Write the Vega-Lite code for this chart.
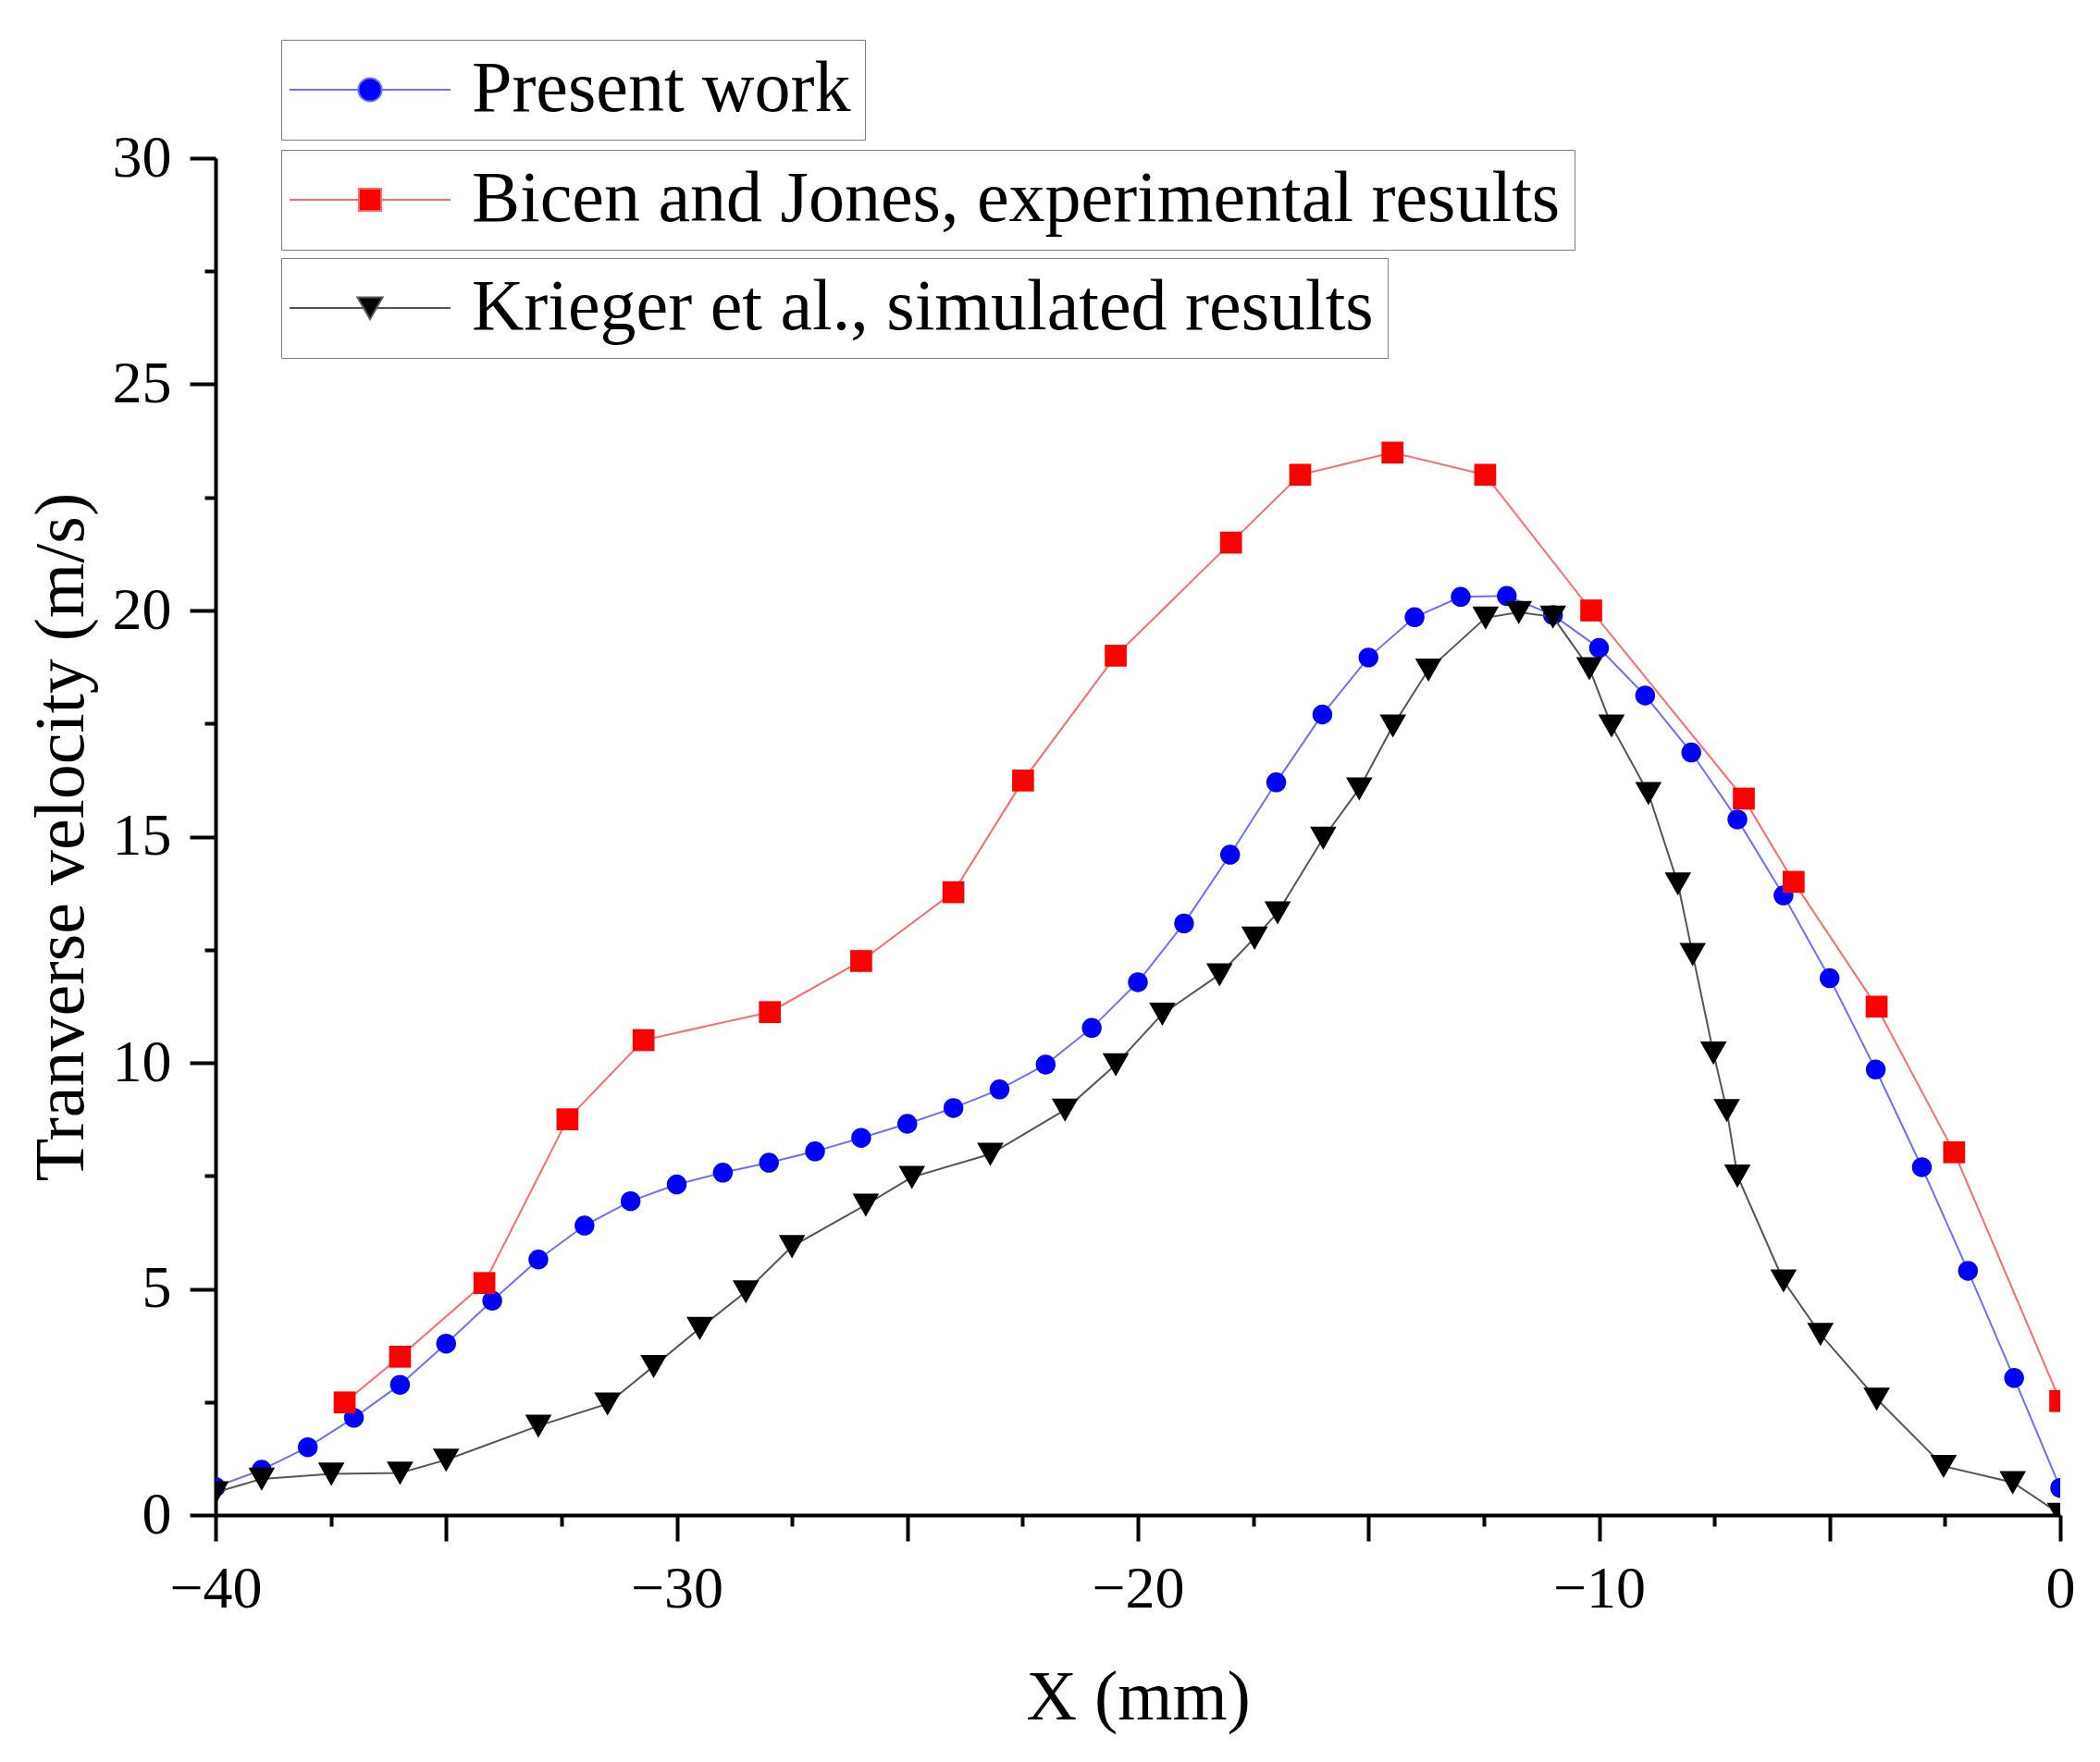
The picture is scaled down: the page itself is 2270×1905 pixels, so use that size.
{
  "$schema": "https://vega.github.io/schema/vega-lite/v6.json",
  "autosize": {"type": "none"},
  "width": 1994,
  "height": 1467,
  "padding": {"left": 233, "top": 171, "right": 43, "bottom": 267},
  "background": "white",
  "config": {
    "view": {"stroke": null},
    "font": "Liberation Serif",
    "axis": {
      "grid": false,
      "labelFont": "Liberation Serif",
      "titleFont": "Liberation Serif",
      "labelColor": "black",
      "titleColor": "black",
      "domainColor": "black",
      "tickColor": "black",
      "domainWidth": 4,
      "tickWidth": 4,
      "labelFlush": false,
      "labelOverlap": false,
      "titleFontWeight": "normal"
    },
    "legend": {
      "orient": "none",
      "title": null,
      "padding": 15,
      "strokeColor": "#808080",
      "fillColor": "white",
      "labelFont": "Liberation Serif",
      "labelFontSize": 78,
      "labelColor": "black",
      "labelLimit": 3000,
      "symbolSize": 3600,
      "symbolOffset": 42,
      "labelOffset": 71,
      "symbolStrokeWidth": 2
    }
  },
  "data": {
    "values": [
      {"series": "Present work", "x": -40, "y": 0.62},
      {"series": "Present work", "x": -39, "y": 1.0},
      {"series": "Present work", "x": -38, "y": 1.5},
      {"series": "Present work", "x": -37, "y": 2.15},
      {"series": "Present work", "x": -36, "y": 2.88},
      {"series": "Present work", "x": -35, "y": 3.79},
      {"series": "Present work", "x": -34, "y": 4.74},
      {"series": "Present work", "x": -33, "y": 5.65},
      {"series": "Present work", "x": -32, "y": 6.4},
      {"series": "Present work", "x": -31, "y": 6.94},
      {"series": "Present work", "x": -30, "y": 7.31},
      {"series": "Present work", "x": -29, "y": 7.57},
      {"series": "Present work", "x": -28, "y": 7.79},
      {"series": "Present work", "x": -27, "y": 8.04},
      {"series": "Present work", "x": -26, "y": 8.34},
      {"series": "Present work", "x": -25, "y": 8.65},
      {"series": "Present work", "x": -24, "y": 9.0},
      {"series": "Present work", "x": -23, "y": 9.41},
      {"series": "Present work", "x": -22, "y": 9.96},
      {"series": "Present work", "x": -21, "y": 10.77},
      {"series": "Present work", "x": -20, "y": 11.78},
      {"series": "Present work", "x": -19, "y": 13.08},
      {"series": "Present work", "x": -18, "y": 14.6},
      {"series": "Present work", "x": -17, "y": 16.2},
      {"series": "Present work", "x": -16, "y": 17.7},
      {"series": "Present work", "x": -15, "y": 18.96},
      {"series": "Present work", "x": -14, "y": 19.85},
      {"series": "Present work", "x": -13, "y": 20.3},
      {"series": "Present work", "x": -12, "y": 20.32},
      {"series": "Present work", "x": -11, "y": 19.9},
      {"series": "Present work", "x": -10, "y": 19.17},
      {"series": "Present work", "x": -9, "y": 18.12},
      {"series": "Present work", "x": -8, "y": 16.86},
      {"series": "Present work", "x": -7, "y": 15.38},
      {"series": "Present work", "x": -6, "y": 13.7},
      {"series": "Present work", "x": -5, "y": 11.87},
      {"series": "Present work", "x": -4, "y": 9.85},
      {"series": "Present work", "x": -3, "y": 7.69},
      {"series": "Present work", "x": -2, "y": 5.4},
      {"series": "Present work", "x": -1, "y": 3.03},
      {"series": "Present work", "x": 0, "y": 0.6},

      {"series": "Bicen and Jones, experimental results", "x": -37.2, "y": 2.49},
      {"series": "Bicen and Jones, experimental results", "x": -36.0, "y": 3.5},
      {"series": "Bicen and Jones, experimental results", "x": -34.17, "y": 5.13},
      {"series": "Bicen and Jones, experimental results", "x": -32.37, "y": 8.75},
      {"series": "Bicen and Jones, experimental results", "x": -30.72, "y": 10.5},
      {"series": "Bicen and Jones, experimental results", "x": -27.98, "y": 11.12},
      {"series": "Bicen and Jones, experimental results", "x": -26.0, "y": 12.25},
      {"series": "Bicen and Jones, experimental results", "x": -24.0, "y": 13.77},
      {"series": "Bicen and Jones, experimental results", "x": -22.49, "y": 16.24},
      {"series": "Bicen and Jones, experimental results", "x": -20.48, "y": 19.0},
      {"series": "Bicen and Jones, experimental results", "x": -17.98, "y": 21.5},
      {"series": "Bicen and Jones, experimental results", "x": -16.48, "y": 23.0},
      {"series": "Bicen and Jones, experimental results", "x": -14.48, "y": 23.49},
      {"series": "Bicen and Jones, experimental results", "x": -12.47, "y": 23.0},
      {"series": "Bicen and Jones, experimental results", "x": -10.17, "y": 20.0},
      {"series": "Bicen and Jones, experimental results", "x": -6.86, "y": 15.84},
      {"series": "Bicen and Jones, experimental results", "x": -5.78, "y": 14.0},
      {"series": "Bicen and Jones, experimental results", "x": -3.98, "y": 11.24},
      {"series": "Bicen and Jones, experimental results", "x": -2.3, "y": 8.02},
      {"series": "Bicen and Jones, experimental results", "x": 0, "y": 2.52},

      {"series": "Krieger et al., simulated results", "x": -40, "y": 0.5},
      {"series": "Krieger et al., simulated results", "x": -39, "y": 0.8},
      {"series": "Krieger et al., simulated results", "x": -37.49, "y": 0.91},
      {"series": "Krieger et al., simulated results", "x": -36, "y": 0.93},
      {"series": "Krieger et al., simulated results", "x": -35, "y": 1.22},
      {"series": "Krieger et al., simulated results", "x": -33, "y": 1.97},
      {"series": "Krieger et al., simulated results", "x": -31.5, "y": 2.46},
      {"series": "Krieger et al., simulated results", "x": -30.5, "y": 3.29},
      {"series": "Krieger et al., simulated results", "x": -29.5, "y": 4.13},
      {"series": "Krieger et al., simulated results", "x": -28.5, "y": 4.94},
      {"series": "Krieger et al., simulated results", "x": -27.5, "y": 5.94},
      {"series": "Krieger et al., simulated results", "x": -25.9, "y": 6.86},
      {"series": "Krieger et al., simulated results", "x": -24.9, "y": 7.47},
      {"series": "Krieger et al., simulated results", "x": -23.2, "y": 7.98},
      {"series": "Krieger et al., simulated results", "x": -21.58, "y": 8.96},
      {"series": "Krieger et al., simulated results", "x": -20.48, "y": 9.96},
      {"series": "Krieger et al., simulated results", "x": -19.47, "y": 11.08},
      {"series": "Krieger et al., simulated results", "x": -18.23, "y": 11.95},
      {"series": "Krieger et al., simulated results", "x": -17.47, "y": 12.76},
      {"series": "Krieger et al., simulated results", "x": -16.97, "y": 13.32},
      {"series": "Krieger et al., simulated results", "x": -15.98, "y": 14.97},
      {"series": "Krieger et al., simulated results", "x": -15.2, "y": 16.06},
      {"series": "Krieger et al., simulated results", "x": -14.47, "y": 17.45},
      {"series": "Krieger et al., simulated results", "x": -13.7, "y": 18.69},
      {"series": "Krieger et al., simulated results", "x": -12.46, "y": 19.84},
      {"series": "Krieger et al., simulated results", "x": -11.74, "y": 19.96},
      {"series": "Krieger et al., simulated results", "x": -11.0, "y": 19.86},
      {"series": "Krieger et al., simulated results", "x": -10.21, "y": 18.72},
      {"series": "Krieger et al., simulated results", "x": -9.73, "y": 17.45},
      {"series": "Krieger et al., simulated results", "x": -8.93, "y": 15.96},
      {"series": "Krieger et al., simulated results", "x": -8.29, "y": 13.96},
      {"series": "Krieger et al., simulated results", "x": -7.97, "y": 12.4},
      {"series": "Krieger et al., simulated results", "x": -7.52, "y": 10.22},
      {"series": "Krieger et al., simulated results", "x": -7.23, "y": 8.95},
      {"series": "Krieger et al., simulated results", "x": -7.0, "y": 7.5},
      {"series": "Krieger et al., simulated results", "x": -6.0, "y": 5.18},
      {"series": "Krieger et al., simulated results", "x": -5.2, "y": 4.0},
      {"series": "Krieger et al., simulated results", "x": -3.98, "y": 2.57},
      {"series": "Krieger et al., simulated results", "x": -2.53, "y": 1.08},
      {"series": "Krieger et al., simulated results", "x": -1.03, "y": 0.72},
      {"series": "Krieger et al., simulated results", "x": 0, "y": 0.02}
    ]
  },
  "resolve": {
    "scale": {"color": "independent"},
    "axis": {"x": "independent", "y": "independent"}
  },
  "layer": [
    {
      "transform": [{"filter": "datum.series === 'Present work'"}],
      "mark": {"type": "line", "color": "#6e6eff", "strokeWidth": 2, "clip": true},
      "encoding": {
        "x": {
          "field": "x", "type": "quantitative",
          "scale": {"domain": [-40, 0], "nice": false, "zero": false},
          "axis": {
            "orient": "bottom",
            "values": [-40, -35, -30, -25, -20, -15, -10, -5, 0],
            "labelExpr": "datum.value % 10 === 0 ? datum.label : ''",
            "tickSize": 28, "labelPadding": 20, "labelFontSize": 64,
            "title": "X (mm)", "titleFontSize": 76, "titlePadding": 48
          }
        },
        "y": {
          "field": "y", "type": "quantitative",
          "scale": {"domain": [0, 30], "nice": false},
          "axis": {
            "orient": "left",
            "values": [0, 5, 10, 15, 20, 25, 30],
            "tickSize": 28, "labelPadding": 20, "labelFontSize": 64,
            "title": "Tranverse velocity (m/s)", "titleFontSize": 76, "titlePadding": 16
          }
        }
      }
    },
    {
      "transform": [{"filter": "datum.series === 'Present work'"}],
      "mark": {"type": "point", "shape": "circle", "filled": true, "size": 460, "opacity": 1, "clip": true},
      "encoding": {
        "x": {"field": "x", "type": "quantitative", "axis": null},
        "y": {"field": "y", "type": "quantitative", "axis": null},
        "color": {
          "field": "series", "type": "nominal",
          "scale": {"domain": ["Present work"], "range": ["#0000ff"]},
          "legend": {
            "legendX": 71, "legendY": -128,
            "symbolType": "M-2.9,0L-0.42,0M0.42,0L2.9,0M-0.42,0A0.42,0.42,0,1,1,0.42,0A0.42,0.42,0,1,1,-0.42,0Z",
            "symbolStrokeColor": "#6e6eff",
            "encode": {
              "legend": {"strokeWidth": {"value": 2.5}},
              "symbols": {"stroke": {"value": "#6e6eff"}, "strokeWidth": {"value": 2}}
            }
          }
        }
      }
    },
    {
      "transform": [{"filter": "datum.series === 'Bicen and Jones, experimental results'"}],
      "mark": {"type": "line", "color": "#ff6a6a", "strokeWidth": 2, "clip": true},
      "encoding": {
        "x": {
          "field": "x", "type": "quantitative",
          "axis": {
            "orient": "bottom",
            "values": [-37.5, -32.5, -27.5, -22.5, -17.5, -12.5, -7.5, -2.5],
            "tickSize": 12, "labels": false, "domain": false, "title": null
          }
        },
        "y": {
          "field": "y", "type": "quantitative",
          "axis": {
            "orient": "left",
            "values": [2.5, 7.5, 12.5, 17.5, 22.5, 27.5],
            "tickSize": 12, "labels": false, "domain": false, "title": null
          }
        }
      }
    },
    {
      "transform": [{"filter": "datum.series === 'Bicen and Jones, experimental results'"}],
      "mark": {"type": "point", "shape": "square", "filled": true, "size": 560, "opacity": 1, "clip": true},
      "encoding": {
        "x": {"field": "x", "type": "quantitative", "axis": null},
        "y": {"field": "y", "type": "quantitative", "axis": null},
        "color": {
          "field": "series", "type": "nominal",
          "scale": {"domain": ["Bicen and Jones, experimental results"], "range": ["#ff0000"]},
          "legend": {
            "legendX": 71, "legendY": -9,
            "symbolType": "M-2.9,0L-0.4,0M0.4,0L2.9,0M-0.4,-0.4L0.4,-0.4L0.4,0.4L-0.4,0.4Z",
            "symbolStrokeColor": "#ff6a6a",
            "encode": {
              "legend": {"strokeWidth": {"value": 2.5}},
              "symbols": {"stroke": {"value": "#ff6a6a"}, "strokeWidth": {"value": 2}}
            }
          }
        }
      }
    },
    {
      "transform": [{"filter": "datum.series === 'Krieger et al., simulated results'"}],
      "mark": {"type": "line", "color": "#555555", "strokeWidth": 2, "clip": true},
      "encoding": {
        "x": {"field": "x", "type": "quantitative", "axis": null},
        "y": {"field": "y", "type": "quantitative", "axis": null}
      }
    },
    {
      "transform": [{"filter": "datum.series === 'Krieger et al., simulated results'"}],
      "mark": {"type": "point", "shape": "M-1,-0.85L1,-0.85L0,0.9Z", "filled": true, "size": 820, "opacity": 1, "clip": true},
      "encoding": {
        "x": {"field": "x", "type": "quantitative", "axis": null},
        "y": {"field": "y", "type": "quantitative", "axis": null},
        "color": {
          "field": "series", "type": "nominal",
          "scale": {"domain": ["Krieger et al., simulated results"], "range": ["#000000"]},
          "legend": {
            "legendX": 71, "legendY": 108,
            "symbolType": "M-2.9,0L-0.22,0M0.22,0L2.9,0M-0.45,-0.38L0.45,-0.38L0,0.4Z",
            "symbolStrokeColor": "#555555",
            "encode": {
              "legend": {"strokeWidth": {"value": 2.5}},
              "symbols": {"stroke": {"value": "#555555"}, "strokeWidth": {"value": 2}}
            }
          }
        }
      }
    }
  ]
}
